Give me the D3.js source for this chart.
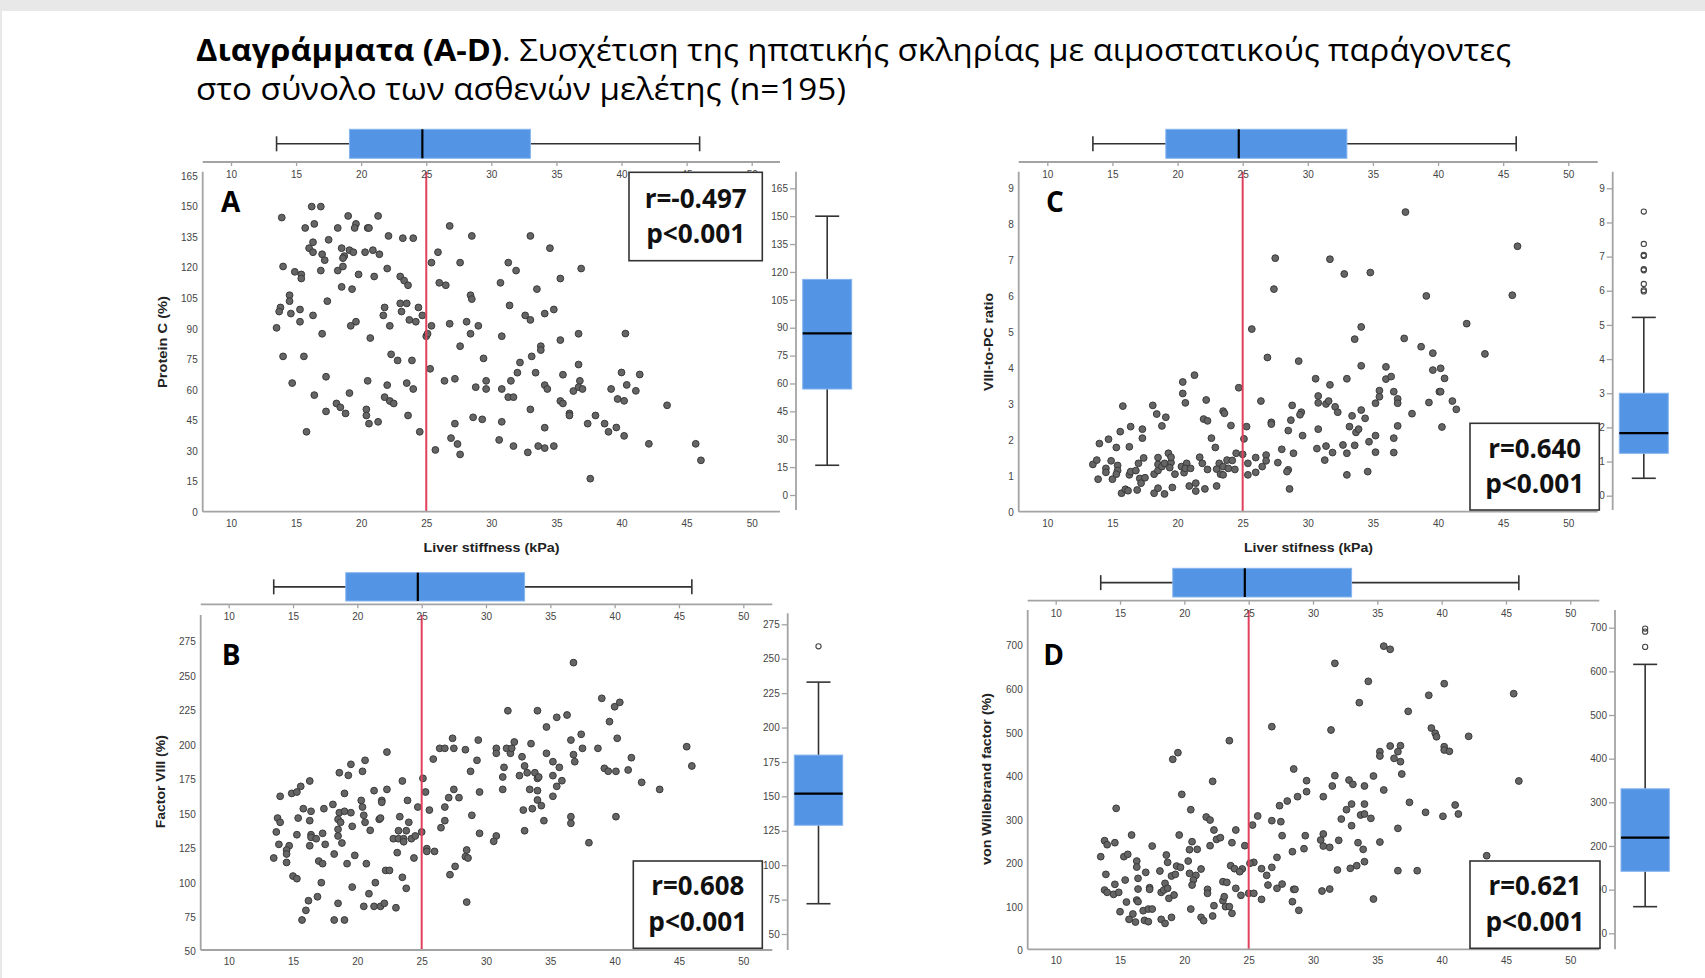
<!DOCTYPE html>
<html>
<head>
<meta charset="utf-8">
<script src="https://cdn.jsdelivr.net/npm/d3@7"></script>
<style>
  body { margin: 0; background: #fff; }
  svg { display: block; }
</style>
</head>
<body>
<div id="chart"></div>
<script>
// liver stiffness (kPa) vs. each haemostatic factor
const pcData = [[16.2,150],[16.9,150],[13.9,144.6],[19.0,145.4],[21.3,145.4],[15.7,139.5],[16.4,141.5],[18.2,139.5],[19.6,141.5],[19.5,139.5],[20.5,139.5],[20.6,139.5],[26.8,140.5],[22.1,135.6],[23.2,134.5],[24.0,134.5],[28.5,135.6],[33.0,135.6],[17.5,133.7],[16.3,132.5],[16.0,129.6],[16.3,127.6],[17.0,126.6],[18.5,129.6],[19.1,128.6],[19.4,127.6],[18.7,125.7],[20.3,127.6],[20.9,128.6],[21.4,126.6],[25.9,127.6],[34.5,129.6],[17.2,123.7],[18.6,124.7],[14.0,120.6],[16.9,118.6],[18.2,118.6],[18.6,120.6],[22.0,119.6],[25.4,122.5],[27.6,122.5],[31.3,122.5],[31.9,118.6],[36.9,119.6],[14.9,118],[15.4,116.7],[15.4,114.7],[19.8,116.7],[21.0,115.7],[23.0,115.7],[23.3,113.7],[23.6,111.4],[26.0,112.6],[26.5,111.4],[30.7,112.6],[35.3,114.7],[18.5,110.6],[19.3,109.5],[33.5,109.5],[14.5,106.5],[14.5,103.6],[17.4,103.6],[28.4,106.5],[28.5,104.6],[13.8,100.5],[13.7,98.5],[14.6,97.5],[15.3,99.5],[15.3,93.5],[16.3,96.6],[21.8,100.5],[21.7,96.6],[23.0,102.5],[23.5,102.5],[23.1,98.5],[24.4,100.5],[24.7,96.6],[23.7,94.4],[24.2,93.5],[19.6,93.5],[19.2,91.5],[22.2,91.5],[25.4,91.5],[26.8,92.5],[28.1,93.5],[29.0,91.5],[31.4,101.5],[32.6,96.6],[33.0,94.4],[34.1,97.5],[34.8,99.5],[13.5,90.5],[17.0,87.6],[20.7,85.5],[25.0,86.4],[25.1,87.6],[28.4,87.6],[30.8,86.4],[35.3,84.5],[36.7,87.6],[27.6,81.5],[33.8,81.5],[33.8,79.6],[14.0,76.5],[15.6,76.5],[22.3,77.5],[22.8,74.5],[23.9,74.5],[29.4,75.5],[32.2,73.5],[33.1,76.5],[36.7,72.5],[25.3,70.4],[32.0,68.5],[33.4,68.5],[35.5,67.5],[14.7,63.4],[17.3,66.5],[20.5,64.5],[23.5,63.4],[22.0,62.4],[24.0,60.5],[26.4,64.5],[27.2,65.5],[28.8,61.4],[29.6,64.5],[29.6,60.5],[30.8,60.5],[31.5,64.5],[34.1,62.4],[34.3,60.5],[36.3,59.5],[36.8,64.5],[36.7,61.4],[37.0,60.5],[16.4,57.5],[19.1,58.5],[21.8,56.5],[22.2,54.6],[22.5,53.4],[18.1,53.4],[18.4,51.5],[31.3,56.5],[31.7,56.5],[35.3,54.6],[35.5,53.4],[33.0,50.5],[17.3,49.5],[18.8,48.5],[20.4,50.5],[20.4,47.5],[20.6,43.5],[21.3,44.4],[23.6,47.5],[28.6,46.6],[29.3,45.6],[30.8,44.4],[27.2,43.5],[36.0,48.5],[36.0,47.5],[38.0,47.5],[37.4,43.5],[38.7,43.5],[34.1,41.5],[15.8,39.5],[24.5,39.5],[39.0,39.5],[26.9,36.4],[30.6,35.5],[27.4,33.5],[27.6,28.4],[25.7,30.6],[31.7,32.5],[32.8,29.4],[33.6,32.5],[34.1,31.5],[34.8,32.5],[37.6,16.5],[39.2,60.5],[40.3,87.7],[40.0,68.6],[41.4,67.6],[40.4,62.5],[41.1,59.6],[39.7,55.6],[40.2,54.7],[43.5,52.5],[39.6,41.6],[40.2,37.5],[42.1,33.6],[45.7,33.6],[46.1,25.5]];

const f8Data = [[36.8,259.8],[39.0,233.9],[31.7,224.9],[34.0,224.9],[35.5,220.1],[36.3,221.8],[34.7,213.1],[39.6,217],[27.4,204.9],[29.4,203.6],[36.6,203.6],[37.4,207.8],[33.5,201],[32.2,202.2],[26.4,197.6],[26.8,197.6],[27.5,197.6],[28.4,196.6],[30.8,197.6],[30.8,194],[31.6,197.6],[31.9,194],[32.0,197.6],[32.8,191.5],[34.7,194],[36.8,193],[37.5,197.6],[38.7,197.6],[35.2,187.9],[36.9,187.9],[25.9,189.8],[22.3,194.9],[20.6,188.9],[19.5,186],[29.3,188.9],[28.8,180.9],[31.4,183.8],[33.0,184.8],[35.7,183.8],[39.2,183.1],[39.5,181],[20.4,180.9],[18.6,179.9],[19.3,178],[31.3,176.8],[32.6,177.8],[33.2,179.9],[33.8,179.9],[34.0,175.8],[34.1,176.8],[35.2,177.8],[35.9,174.1],[16.3,173.9],[15.6,170],[14.9,164.9],[15.3,165.9],[14.0,162.8],[23.5,173.9],[25.1,175.8],[25.3,165.9],[21.3,166.9],[22.3,167.8],[19.0,164.9],[27.5,167.8],[27.9,161.8],[27.1,161.8],[29.5,165.9],[31.3,167.8],[33.4,167.8],[34.0,166.9],[35.5,170],[35.2,162.8],[20.3,159.8],[21.9,159.8],[21.9,158.4],[23.9,159.8],[18.1,156.9],[20.4,155],[24.7,155],[15.8,153.8],[16.4,151.9],[17.4,153.8],[18.6,150.9],[19.0,151.9],[19.5,150.9],[20.5,149],[25.6,152.8],[26.8,155],[32.9,152.8],[33.6,153.8],[34.0,160.1],[34.3,156],[13.8,147],[14.0,143.9],[15.4,147],[16.3,145.1],[18.5,146.1],[18.7,143.9],[20.6,143.9],[21.7,146.1],[21.8,147],[23.3,148],[24.0,143.9],[26.8,145.1],[28.9,149],[34.5,145.1],[36.6,148],[36.6,143.2],[13.7,136.9],[15.3,134.9],[16.4,134.9],[16.4,133],[16.8,132],[17.3,135.9],[18.5,138.8],[18.5,134],[19.6,141],[21.0,138.1],[22.8,132],[23.2,137.8],[23.2,132],[23.8,137.8],[23.6,132],[23.6,129.8],[24.2,132],[24.5,134],[25.0,136.9],[26.5,140],[29.5,135.9],[30.8,134],[30.6,130.1],[33.0,137.8],[13.9,127.9],[14.7,126.9],[14.5,123.8],[14.5,120.9],[16.3,126.9],[17.5,127.9],[18.8,128.9],[13.5,118],[14.5,114.8],[18.2,120.9],[19.8,119.9],[23.1,121.9],[24.4,118],[25.4,124.8],[25.4,122.8],[26.0,122.8],[28.5,123.8],[28.4,119],[28.6,118],[27.6,111.9],[17.0,115.8],[17.3,113.9],[19.2,113.9],[20.7,113.9],[27.2,105.9],[22.2,109],[22.5,109],[23.5,104],[15.0,104.9],[15.3,103],[17.2,100.1],[21.4,100.1],[19.6,96.9],[23.8,96],[20.9,92.1],[16.9,89.9],[16.2,87],[16.0,80],[18.5,85.1],[20.5,82.9],[21.3,82.9],[21.8,82.9],[22.1,85.1],[23.0,81.9],[28.5,86],[15.7,73],[18.2,73],[19.0,73],[38.0,129.1],[40.0,227.8],[40.4,231],[40.2,204.9],[40.1,180.9],[41.05,181.9],[41.3,190.8],[42.1,172.9],[43.5,167.8],[45.6,198.8],[46.0,184.8],[40.1,148]];

const ratioData = [[37.5,8.34],[27.5,7.06],[31.7,7.03],[32.8,6.62],[34.8,6.66],[27.4,6.20],[25.7,5.09],[34.1,5.15],[33.6,4.81],[37.4,4.83],[26.9,4.30],[29.3,4.20],[34.1,4.07],[36.0,4.04],[30.6,3.71],[33.0,3.71],[36.0,3.70],[36.4,3.77],[21.3,3.81],[20.4,3.62],[20.4,3.30],[20.6,3.04],[22.2,3.12],[24.7,3.46],[31.7,3.54],[35.5,3.38],[35.5,3.21],[35.2,3.03],[36.6,3.35],[36.9,3.15],[36.9,3.03],[30.8,3.23],[30.8,3.04],[31.4,3.01],[31.6,3.09],[32.1,2.93],[32.3,2.78],[26.4,3.09],[28.8,2.97],[29.5,2.78],[29.4,2.71],[15.8,2.95],[18.1,2.97],[18.4,2.73],[19.1,2.64],[18.8,2.40],[22.0,2.59],[22.3,2.54],[23.5,2.81],[23.6,2.75],[24.1,2.41],[25.3,2.38],[27.2,2.50],[27.2,2.45],[28.7,2.56],[28.5,2.27],[33.4,2.68],[34.1,2.84],[34.4,2.61],[33.2,2.38],[33.7,2.22],[33.9,2.31],[30.8,2.31],[29.6,2.13],[35.2,2.13],[36.9,2.40],[36.6,2.06],[34.7,1.96],[38.0,2.74],[16.4,2.38],[17.3,2.31],[17.3,2.06],[15.6,2.24],[14.7,2.03],[14.0,1.91],[15.3,1.80],[16.3,1.82],[22.6,2.06],[22.9,1.80],[25.1,2.04],[24.5,1.64],[25.0,1.61],[28.0,1.75],[26.8,1.59],[28.9,1.64],[30.7,1.77],[31.4,1.84],[31.9,1.66],[32.7,1.87],[33.0,1.64],[33.6,1.86],[31.3,1.45],[35.2,1.67],[36.6,1.66],[13.5,1.33],[13.8,1.45],[13.9,0.92],[14.5,1.22],[14.5,1.11],[14.9,1.43],[15.0,0.92],[15.4,1.30],[15.4,1.16],[15.3,1.06],[16.3,1.04],[16.4,1.13],[16.8,1.16],[17.1,0.94],[17.2,0.81],[17.4,1.51],[17.0,1.36],[17.5,0.96],[15.7,0.53],[16.0,0.64],[16.2,0.60],[16.9,0.62],[18.2,0.53],[18.5,0.67],[19.0,0.51],[19.6,0.69],[18.2,1.06],[18.5,1.16],[18.5,1.52],[18.5,1.33],[18.8,1.27],[19.0,1.36],[19.3,1.64],[19.5,1.38],[19.5,1.53],[19.4,1.24],[19.8,1.06],[20.3,1.27],[20.5,1.10],[20.7,1.36],[20.6,1.22],[21.0,1.22],[20.9,0.73],[21.4,0.59],[21.4,0.81],[21.7,1.53],[21.9,1.36],[22.3,1.19],[22.1,0.65],[23.0,0.73],[23.2,1.36],[23.0,1.20],[23.3,1.06],[23.5,1.04],[23.5,1.27],[23.8,1.45],[23.9,1.22],[24.2,1.44],[24.4,1.19],[25.4,1.36],[25.4,1.04],[26.0,1.52],[26.0,1.11],[26.5,1.27],[26.8,1.43],[27.7,1.38],[28.5,1.18],[28.4,1.13],[28.6,0.65],[33.0,1.04],[34.6,1.13],[46.1,7.39],[39.1,6.01],[45.7,6.03],[42.2,5.24],[38.7,4.60],[39.6,4.42],[43.6,4.40],[39.6,3.95],[40.2,4.0],[40.5,3.72],[40.1,3.35],[40.2,3.35],[39.3,3.05],[41.1,3.09],[41.4,2.86],[40.3,2.37]];

const vwfData = [[35.5,699],[36.0,691.7],[31.7,659.5],[34.3,618.2],[33.6,569.2],[37.4,549.3],[26.8,514.2],[31.4,506.5],[23.5,482],[19.5,454.5],[19.1,439.2],[35.2,456.8],[35.2,446.8],[36.0,469.8],[36.8,470.5],[36.6,456.8],[36.3,441.5],[36.8,433.8],[36.9,405.5],[28.5,417],[31.7,401.7],[34.7,400.9],[29.5,390.2],[32.8,391.7],[33.1,381.8],[34.0,378],[31.5,378],[22.2,388.7],[35.5,368.8],[19.8,358.8],[29.5,365],[28.8,353.5],[30.8,353.5],[28.0,343.5],[27.4,332.8],[33.0,336.6],[34.0,336.6],[37.5,340.5],[32.6,323.6],[20.5,323.6],[14.7,326.7],[32.2,302.2],[33.7,311.4],[34.0,313.7],[34.5,303.7],[33.0,286.9],[36.6,280.8],[25.7,309.1],[25.3,288.4],[21.7,306.8],[22.0,299.9],[26.8,298.4],[27.5,296.1],[24.0,277],[22.3,277],[15.9,265.5],[19.6,265.5],[27.6,264],[29.4,264],[30.8,267.8],[13.8,252.5],[14.0,243.3],[14.6,247.9],[17.5,240.2],[20.6,250.2],[22.0,241],[22.5,255.5],[22.8,259.4],[23.7,247.9],[24.7,241],[30.6,254],[30.8,240.2],[31.3,237.2],[32.0,253.3],[33.5,247.9],[33.9,232.6],[35.2,249.4],[20.4,231.8],[21.0,232.6],[28.4,227.2],[29.3,234.1],[13.5,215.8],[15.3,215.8],[15.6,221.1],[16.3,205.8],[16.3,192],[18.6,219.6],[18.7,202.8],[20.3,205.8],[19.4,194.3],[19.7,191.3],[27.2,214.2],[26.8,191.3],[26.0,188.2],[25.4,202.8],[25.1,200.5],[24.5,187.5],[23.6,195.1],[23.9,188.2],[24.3,181.3],[21.3,187.5],[34.0,204.3],[32.9,189],[33.4,195.1],[31.9,185.2],[36.6,183.6],[38.1,183.6],[13.9,175.2],[17.0,179.8],[18.1,182.9],[19.0,171.4],[19.3,175.2],[20.4,177.5],[20.9,172.9],[20.7,162.2],[20.6,150.7],[16.4,166],[15.4,162.2],[26.4,172.9],[14.6,152.3],[13.8,139.2],[14.0,133.9],[14.5,129.3],[14.9,133.9],[16.4,141.5],[17.3,144.6],[17.3,140.8],[18.2,133.9],[18.5,154.6],[18.4,139.2],[18.7,143.1],[18.8,120.1],[19.2,127.8],[21.8,140.8],[21.8,131.6],[23.0,158.4],[23.3,156.8],[24.0,143.1],[24.4,127],[25.0,131.6],[25.4,131.6],[26.5,150.7],[27.2,143.1],[27.6,153],[28.5,140.8],[28.6,140.8],[30.7,137],[31.3,141.5],[26.0,117.8],[28.4,112.5],[28.9,92.6],[34.7,118.6],[15.0,89.5],[15.5,111.7],[16.3,116.3],[16.4,112.5],[16.0,84.2],[15.7,71.9],[16.2,65.8],[16.8,91.8],[17.2,95.6],[17.5,95.6],[16.9,69.6],[17.2,66.6],[18.2,71.9],[18.5,62.7],[19.0,76.5],[20.5,95.6],[21.3,76.5],[21.5,68.9],[22.2,79.6],[22.3,103.3],[23.0,114.8],[23.1,124],[23.2,101],[23.5,101],[23.7,85.7],[40.2,612.8],[39.0,586.2],[45.6,589.9],[42.1,492],[39.2,511],[39.5,499],[39.6,491],[40.2,468.2],[40.2,460.6],[40.6,457.6],[46.0,389.5],[38.75,317.6],[40.1,308.5],[41.05,334.4],[41.3,313.7],[43.5,218]];

// boxplots: [lower whisker, Q1, median, Q3, upper whisker]
const lsmBox = [13.5, 19.1, 24.7, 33.0, 46.0];
const pcBox = [16, 57, 87, 116, 150];
const f8Box = [72, 129, 152, 180, 233];
const ratioBox = [0.51, 1.24, 1.83, 3.0, 5.22];
const vwfBox = [61, 142, 219, 331, 616];
const pcOut = [];
const f8Out = [259];
const ratioOut = [8.32, 7.37, 7.05, 7.02, 6.63, 6.6, 6.2, 6.02, 5.98];
const vwfOut = [698, 691, 656];

// tick labels
const lsmTicks = [10, 15, 20, 25, 30, 35, 40, 45, 50];
const pcTicks = [0, 15, 30, 45, 60, 75, 90, 105, 120, 135, 150, 165];
const f8Ticks = [50, 75, 100, 125, 150, 175, 200, 225, 250, 275];
const ratioTicks = [0, 1, 2, 3, 4, 5, 6, 7, 8, 9];
const vwfTicks = [0, 100, 200, 300, 400, 500, 600, 700];
const cutoff = 25;

const width = 1705, height = 978;
const axisColor = "#a3a3a3", labelColor = "#444", boxBlue = "#5494e4";
const font = "'Liberation Sans', Arial, sans-serif";

const svg = d3.select("#chart").append("svg")
  .attr("width", width)
  .attr("height", height);

svg.append("rect").attr("x", 0).attr("y", 0).attr("width", width).attr("height", 11).attr("fill", "#e8e8e8");
svg.append("rect").attr("x", 0).attr("y", 11).attr("width", 2).attr("height", height - 11).attr("fill", "#e8e8e8");

/* title */
const title = svg.append("g").attr("font-family", "'Open Sans', 'Noto Sans', sans-serif").attr("font-size", 31).attr("fill", "#000");
title.append("text").attr("x", 196).attr("y", 61).attr("font-weight", "bold")
  .attr("textLength", 306).attr("lengthAdjust", "spacingAndGlyphs").text("Διαγράμματα (A-D)");
title.append("text").attr("x", 502).attr("y", 61)
  .attr("textLength", 1009).attr("lengthAdjust", "spacingAndGlyphs")
  .text(". Συσχέτιση της ηπατικής σκληρίας με αιμοστατικούς παράγοντες");
title.append("text").attr("x", 196).attr("y", 100)
  .attr("textLength", 650).attr("lengthAdjust", "spacingAndGlyphs")
  .text("στο σύνολο των ασθενών μελέτης (n=195)");

const panels = [
  { data: pcData, box: pcBox, out: pcOut, ticks: pcTicks, letter: "A", ylabel: "Protein C (%)",
    ylab: [162, 342, 92], x10: 231, x50: 751.7, left: 202.7, right: 780, topAxis: 162, boxTop: 129.3, boxBot: 158.3,
    plotTop: 171.7, bottom: 511.7, yRange: [512.3, 176], rAxisX: 796, rTop: 171.7, rBot: 510, yrRange: [495, 188.3],
    rBox: [802.7, 851.7], letterPos: [221, 212],
    annot: { x0: 629, y0: 172.3, x1: 762.3, y1: 260.7, b1: 207.5, b2: 243, t1: "r=-0.497", w1: 102 },
    xTitle: { text: "Liver stiffness (kPa)", x: 491.5, y: 552, len: 136 } },
  { data: f8Data, box: f8Box, out: f8Out, ticks: f8Ticks, letter: "B", ylabel: "Factor VIII (%)",
    ylab: [160, 781.7, 93], x10: 228.7, x50: 743.3, left: 200.7, right: 772.3, topAxis: 604.3, boxTop: 572.7, boxBot: 601,
    plotTop: 615, bottom: 950, yRange: [951.7, 641.7], rAxisX: 787.7, rTop: 613.3, rBot: 950, yrRange: [934, 624.3],
    rBox: [794.3, 842.7], letterPos: [221.7, 665],
    annot: { x0: 633.3, y0: 861, x1: 762.3, y1: 948.3, b1: 895, b2: 930.5, t1: "r=0.608", w1: 93 } },
  { data: ratioData, box: ratioBox, out: ratioOut, ticks: ratioTicks, letter: "C", ylabel: "VIII-to-PC ratio",
    ylab: [988.3, 342, 98], x10: 1047.3, x50: 1568.3, left: 1018.7, right: 1597.7, topAxis: 162, boxTop: 129.3, boxBot: 158.3,
    plotTop: 171.7, bottom: 511.7, yRange: [512.3, 188.3], rAxisX: 1612.7, rTop: 171.7, rBot: 510, yrRange: [495.7, 188.3],
    rBox: [1619.3, 1668.3], letterPos: [1046, 211.7],
    annot: { x0: 1470, y0: 423.3, x1: 1599.3, y1: 510, b1: 457.5, b2: 492.5, t1: "r=0.640", w1: 93 },
    xTitle: { text: "Liver stifness (kPa)", x: 1308.5, y: 552, len: 129 } },
  { data: vwfData, box: vwfBox, out: vwfOut, ticks: vwfTicks, letter: "D", ylabel: "von Willebrand factor (%)",
    ylab: [986.7, 779, 172], x10: 1055.7, x50: 1570.3, left: 1027.7, right: 1599.3, topAxis: 600.7, boxTop: 568.3, boxBot: 597,
    plotTop: 610, bottom: 949.3, yRange: [950.7, 645.7], rAxisX: 1615, rTop: 610, rBot: 949.3, yrRange: [933.3, 627.7],
    rBox: [1621, 1669.3], letterPos: [1043.3, 665],
    annot: { x0: 1470, y0: 861, x1: 1600, y1: 948.3, b1: 895, b2: 930.5, t1: "r=0.621", w1: 93 } }
];

function styleAxis(sel) {
  sel.attr("font-family", font).attr("font-size", 10);
  sel.select(".domain").remove();
  sel.selectAll(".tick line").attr("stroke", axisColor).attr("stroke-width", 1.3);
  sel.selectAll(".tick text").attr("fill", labelColor);
}

function drawPanel(p) {
  const g = svg.append("g");
  const yDom = [p.ticks[0], p.ticks[p.ticks.length - 1]];
  const x = d3.scaleLinear().domain([10, 50]).range([p.x10, p.x50]);
  const y = d3.scaleLinear().domain(yDom).range(p.yRange);
  const yr = d3.scaleLinear().domain(yDom).range(p.yrRange);

  // points
  g.append("g").selectAll("circle")
    .data(p.data).enter().append("circle")
    .attr("cx", d => x(d[0]))
    .attr("cy", d => y(d[1]))
    .attr("r", 3.4)
    .attr("fill", "#656565")
    .attr("stroke", "#3a3a3a")
    .attr("stroke-width", 1);

  // cut-off line
  g.append("line")
    .attr("x1", x(cutoff)).attr("x2", x(cutoff))
    .attr("y1", p.plotTop).attr("y2", p.bottom)
    .attr("stroke", "#e2415d").attr("stroke-width", 2);

  // axes of the scatter
  g.append("g").attr("transform", `translate(0,${p.topAxis})`)
    .call(d3.axisBottom(x).tickValues(lsmTicks).tickSize(4).tickPadding(5))
    .call(styleAxis);
  g.append("g").attr("transform", `translate(0,${p.bottom})`)
    .call(d3.axisBottom(x).tickValues(lsmTicks).tickSize(0).tickPadding(8))
    .call(styleAxis);
  g.append("g").attr("transform", `translate(${p.left},0)`)
    .call(d3.axisLeft(y).tickValues(p.ticks).tickSize(0).tickPadding(5))
    .call(styleAxis);

  const lines = g.append("g").attr("stroke", axisColor).attr("stroke-width", 1.8);
  lines.append("line").attr("x1", p.left).attr("x2", p.right).attr("y1", p.topAxis).attr("y2", p.topAxis);
  lines.append("line").attr("x1", p.left).attr("x2", p.right).attr("y1", p.bottom).attr("y2", p.bottom);
  lines.append("line").attr("x1", p.left).attr("x2", p.left).attr("y1", p.plotTop).attr("y2", p.bottom);

  // top boxplot (liver stiffness)
  const by = (p.boxTop + p.boxBot) / 2;
  const tb = g.append("g");
  tb.append("line").attr("x1", x(lsmBox[0])).attr("x2", x(lsmBox[4])).attr("y1", by).attr("y2", by)
    .attr("stroke", "#333").attr("stroke-width", 1.6);
  tb.selectAll(".cap").data([lsmBox[0], lsmBox[4]]).enter().append("line")
    .attr("x1", d => x(d)).attr("x2", d => x(d)).attr("y1", by - 7.5).attr("y2", by + 7.5)
    .attr("stroke", "#333").attr("stroke-width", 1.6);
  tb.append("rect").attr("x", x(lsmBox[1])).attr("y", p.boxTop)
    .attr("width", x(lsmBox[3]) - x(lsmBox[1])).attr("height", p.boxBot - p.boxTop)
    .attr("fill", boxBlue).attr("stroke", "#86b4ee").attr("stroke-width", 1);
  tb.append("line").attr("x1", x(lsmBox[2])).attr("x2", x(lsmBox[2])).attr("y1", p.boxTop).attr("y2", p.boxBot)
    .attr("stroke", "#000").attr("stroke-width", 2.2);

  // right boxplot
  g.append("g").attr("transform", `translate(${p.rAxisX},0)`)
    .call(d3.axisLeft(yr).tickValues(p.ticks).tickSize(6).tickPadding(2))
    .call(styleAxis);
  g.append("line").attr("x1", p.rAxisX).attr("x2", p.rAxisX).attr("y1", p.rTop).attr("y2", p.rBot)
    .attr("stroke", axisColor).attr("stroke-width", 1.8);

  const cx = (p.rBox[0] + p.rBox[1]) / 2;
  const rb = g.append("g");
  rb.append("line").attr("x1", cx).attr("x2", cx).attr("y1", yr(p.box[0])).attr("y2", yr(p.box[4]))
    .attr("stroke", "#333").attr("stroke-width", 1.6);
  rb.selectAll(".cap").data([p.box[0], p.box[4]]).enter().append("line")
    .attr("x1", cx - 12).attr("x2", cx + 12).attr("y1", d => yr(d)).attr("y2", d => yr(d))
    .attr("stroke", "#333").attr("stroke-width", 1.6);
  rb.append("rect").attr("x", p.rBox[0]).attr("y", yr(p.box[3]))
    .attr("width", p.rBox[1] - p.rBox[0]).attr("height", yr(p.box[1]) - yr(p.box[3]))
    .attr("fill", boxBlue).attr("stroke", "#86b4ee").attr("stroke-width", 1);
  rb.append("line").attr("x1", p.rBox[0]).attr("x2", p.rBox[1]).attr("y1", yr(p.box[2])).attr("y2", yr(p.box[2]))
    .attr("stroke", "#000").attr("stroke-width", 2.2);
  rb.selectAll(".out").data(p.out).enter().append("circle")
    .attr("cx", cx).attr("cy", d => yr(d)).attr("r", 2.6)
    .attr("fill", "none").attr("stroke", "#444").attr("stroke-width", 1.1);

  // labels
  g.append("text")
    .attr("transform", `translate(${p.ylab[0]},${p.ylab[1]}) rotate(-90)`)
    .attr("text-anchor", "middle").attr("dy", "0.35em")
    .attr("font-family", font).attr("font-size", 13.5).attr("font-weight", "bold").attr("fill", "#222")
    .attr("textLength", p.ylab[2]).attr("lengthAdjust", "spacingAndGlyphs")
    .text(p.ylabel);

  g.append("text")
    .attr("x", p.letterPos[0]).attr("y", p.letterPos[1])
    .attr("font-family", "'Open Sans', sans-serif").attr("font-size", 28).attr("font-weight", "bold")
    .text(p.letter);

  if (p.xTitle) {
    g.append("text")
      .attr("x", p.xTitle.x).attr("y", p.xTitle.y)
      .attr("text-anchor", "middle")
      .attr("font-family", font).attr("font-size", 13).attr("font-weight", "bold").attr("fill", "#222")
      .attr("textLength", p.xTitle.len).attr("lengthAdjust", "spacingAndGlyphs")
      .text(p.xTitle.text);
  }

  // correlation box
  const a = p.annot;
  const ax = (a.x0 + a.x1) / 2;
  g.append("rect")
    .attr("x", a.x0).attr("y", a.y0).attr("width", a.x1 - a.x0).attr("height", a.y1 - a.y0)
    .attr("fill", "#fff").attr("stroke", "#333").attr("stroke-width", 1.6);
  const at = g.append("g").attr("font-family", "'Open Sans', sans-serif").attr("font-size", 26)
    .attr("font-weight", "bold").attr("text-anchor", "middle").attr("fill", "#111");
  at.append("text").attr("x", ax).attr("y", a.b1)
    .attr("textLength", a.w1).attr("lengthAdjust", "spacingAndGlyphs").text(a.t1);
  at.append("text").attr("x", ax).attr("y", a.b2)
    .attr("textLength", 99).attr("lengthAdjust", "spacingAndGlyphs").text("p<0.001");
}

panels.forEach(drawPanel);
</script>
</body>
</html>
